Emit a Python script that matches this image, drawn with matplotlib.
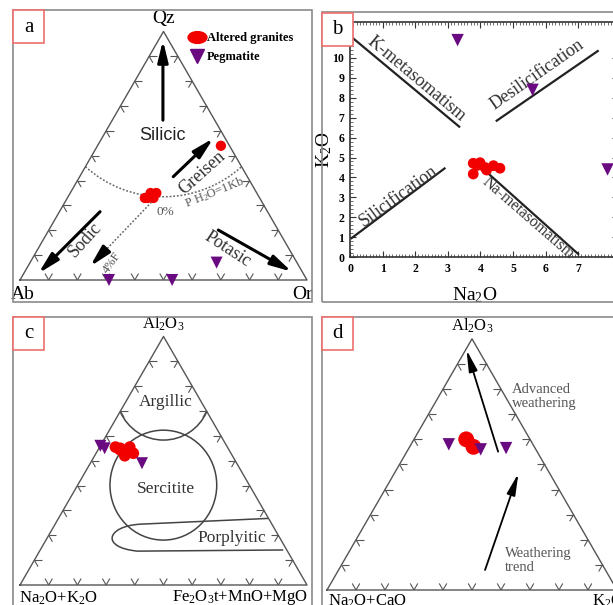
import numpy as np
import matplotlib
matplotlib.use("Agg")
import matplotlib.pyplot as plt
from matplotlib.patches import Rectangle, Ellipse, Arc, PathPatch
from matplotlib.path import Path
from matplotlib.lines import Line2D
from matplotlib.markers import MarkerStyle
from matplotlib.transforms import Affine2D
from matplotlib.collections import LineCollection

plt.rcParams['font.family'] = ['Liberation Serif', 'DejaVu Serif']
plt.rcParams['mathtext.fontset'] = 'custom'
plt.rcParams['mathtext.rm'] = 'Liberation Serif'
plt.rcParams['mathtext.default'] = 'regular'

RED = '#f20000'
PURPLE = '#6a0a80'
GREY = '#555555'

# ---- data ----
# (a) Qz - Ab - Or
a_red_qz = [33, 35, 35, 33, 33, 54]
a_red_ab = [40, 37, 35, 39, 37, 3]
a_red_or = [27, 28, 30, 28, 30, 43]
a_peg_qz = [0, 0, 7]
a_peg_ab = [69, 47, 28]
a_peg_or = [31, 53, 65]

# (b) K2O vs Na2O
b_red_na = [3.78, 3.99, 3.78, 4.19, 4.40, 4.60, 4.14, 3.90]
b_red_k = [4.71, 4.74, 4.17, 4.37, 4.59, 4.46, 4.50, 4.60]
b_peg_na = [3.3, 5.6, 7.9]
b_peg_k = [10.9, 8.4, 4.4]
k_meta_x, k_meta_y = [0.05, 3.35], [11.05, 6.55]
desil_x, desil_y = [4.5, 7.6], [6.85, 10.35]
silic_x, silic_y = [0.05, 2.9], [0.95, 4.45]
na_meta_x, na_meta_y = [4.0, 7.0], [4.55, 0.15]

# (c) Al2O3 - (Na2O+K2O) - (Fe2O3t+MnO+MgO)
c_red_al = [55.5, 55, 54, 53, 52, 55.5, 53.5, 54.5]
c_red_alk = [39, 37.5, 35.5, 34, 37.5, 34, 36, 38]
c_red_fe = [5.5, 7.5, 10.5, 13, 10.5, 10.5, 10.5, 7.5]
c_peg_al = [56, 55, 49]
c_peg_alk = [44, 43, 33]
c_peg_fe = [0, 2, 18]

# (d) Al2O3 - (Na2O+CaO) - K2O
d_red_al = [60, 57]
d_red_naca = [22, 21]
d_red_k = [18, 22]
d_peg_al = [58, 56, 56.5]
d_peg_naca = [29, 19, 10]
d_peg_k = [13, 25, 33.5]

W, H = 613, 605
H3 = np.sqrt(3) / 2


def tri_xy(top, left, right):
    top, left, right = (np.asarray(v, float) for v in (top, left, right))
    s = top + left + right
    return right / s + 0.5 * top / s, top / s * H3


def tri_axes(box, origin, scale):
    x0, y0, x1, y1 = box
    ax = fig.add_axes([x0 / W, 1 - y1 / H, (x1 - x0) / W, (y1 - y0) / H])
    ax.set_xlim((x0 - origin[0]) / scale, (x1 - origin[0]) / scale)
    ax.set_ylim((origin[1] - y1) / scale, (origin[1] - y0) / scale)
    ax.axis('off')
    # outline + chevron ticks
    ax.plot([0, 1, 0.5, 0], [0, 0, H3, 0], color=GREY, lw=1, zorder=2)
    L = 0.026
    segs = []
    for i in range(1, 10):
        f = i / 10
        for p, dirs in [((f, 0), [(0.5, H3), (-0.5, H3)]),
                        ((0.5 * f, H3 * f), [(1, 0), (0.5, -H3)]),
                        ((1 - 0.5 * f, H3 * f), [(-1, 0), (-0.5, -H3)])]:
            for d in dirs:
                segs.append([p, (p[0] + L * d[0], p[1] + L * d[1])])
    ax.add_collection(LineCollection(segs, colors=GREY, linewidths=0.8))
    return ax


fig = plt.figure(figsize=(W / 100, H / 100), dpi=100)

arrow_bold = dict(arrowstyle='-|>,head_length=0.9,head_width=0.22', color='k',
                  lw=2.2, shrinkA=0, shrinkB=0, mutation_scale=14)
arrow_thin = dict(arrowstyle='-|>,head_length=1.0,head_width=0.2', color='k',
                  lw=1.3, shrinkA=0, shrinkB=0, mutation_scale=13)

# ---------------- (a) ----------------
ax = tri_axes((13, 10, 312, 302), (20, 280), 287)
ax.text(0.5, H3 + 0.045, 'Qz', ha='center', va='center', fontsize=14)
ax.text(0.01, -0.05, 'Ab', ha='center', va='center', fontsize=14)
ax.text(0.985, -0.05, 'Or', ha='center', va='center', fontsize=14)

ax.add_patch(Arc((0.5, 0.695), 0.81, 0.81, theta1=227.8, theta2=312.2,
                 color='#666', lw=1.1, ls=(0, (1.2, 1.2))))
ax.plot([0.476, 0.262], [0.290, 0.066], color='#666', lw=1.1, ls=(0, (1.2, 1.2)))
ax.annotate('', xy=(0.244, 0.047), xytext=(0.275, 0.080), arrowprops=arrow_bold)

ax.annotate('', xy=(0.498, 0.835), xytext=(0.498, 0.557), arrowprops=arrow_bold)
ax.annotate('', xy=(0.674, 0.494), xytext=(0.534, 0.360), arrowprops=arrow_bold)
ax.annotate('', xy=(0.064, 0.023), xytext=(0.279, 0.238), arrowprops=arrow_bold)
ax.annotate('', xy=(0.947, 0.029), xytext=(0.691, 0.174), arrowprops=arrow_bold)

ax.text(0.498, 0.505, 'Silicic', family='Liberation Sans', fontsize=13,
        ha='center', va='center', color='#222')
ax.text(0.635, 0.372, 'Greisen', fontsize=13, rotation=42, ha='center',
        va='center', color='#333')
ax.text(0.226, 0.139, 'Sodic', fontsize=13, rotation=48, ha='center',
        va='center', color='#333')
ax.text(0.722, 0.108, 'Potasic', fontsize=13, rotation=-33, ha='center',
        va='center', color='#333')
ax.text(0.676, 0.305, 'P H$_2$O=1Kb', fontsize=9, rotation=22, ha='center',
        va='center', color='#555')
ax.text(0.508, 0.238, '0%', fontsize=9.5, ha='center', va='center', color='#555')
ax.text(0.322, 0.062, '4%F', fontsize=9, rotation=55, ha='center',
        va='center', color='#555')

x, y = tri_xy(a_red_qz, a_red_ab, a_red_or)
ax.scatter(x, y, s=55, color=RED, edgecolors='none', zorder=5)
x, y = tri_xy(a_peg_qz, a_peg_ab, a_peg_or)
ax.scatter(x, y, s=75, marker='v', color=PURPLE, edgecolors='none', zorder=5)

ell = MarkerStyle('o', transform=Affine2D().scale(1.6, 1.0))
handles = [Line2D([], [], ls='', marker=ell, color=RED, ms=8.5),
           Line2D([], [], ls='', marker='v', color=PURPLE, ms=10)]
ax.legend(handles, ['Altered granites', 'Pegmatite'], loc='upper left',
          bbox_to_anchor=(0.585, 0.925), frameon=False, handlelength=1.4,
          handletextpad=0.15, borderpad=0, borderaxespad=0, labelspacing=0.6,
          prop=dict(family='Liberation Serif', weight='bold', size=9))

# ---------------- (b) ----------------
bx = fig.add_axes([350 / W, 1 - 257 / H, (618 - 350) / W, (257 - 22) / H])
bx.set_xlim(0, 268 / 32.6)
bx.set_ylim(0, 235 / 19.9)
bx.set_xticks(range(8))
bx.set_yticks(range(11))
bx.set_xticks(np.arange(0, 8.2, 0.1), minor=True)
bx.set_yticks(np.arange(0, 11.8, 0.2), minor=True)
bx.tick_params(which='both', direction='in', top=True, right=True,
               labelsize=8.5, pad=4, color='#333')
bx.tick_params(which='major', length=4, width=0.8)
bx.tick_params(which='minor', length=2, width=0.5)
for lab in bx.get_xticklabels() + bx.get_yticklabels():
    lab.set_fontweight('bold')
for s in bx.spines.values():
    s.set_linewidth(1.2)
    s.set_color('#333')
bx.set_xlabel('Na$_2$O', fontsize=14)
bx.set_ylabel('K$_2$O', fontsize=14)
bx.xaxis.set_label_coords((475 - 350) / 268, -(285 - 257) / 235)
bx.yaxis.set_label_coords(-(350 - 334) / 268, (257 - 150) / 235)

for lx, ly in [(k_meta_x, k_meta_y), (desil_x, desil_y),
               (silic_x, silic_y), (na_meta_x, na_meta_y)]:
    bx.plot(lx, ly, color='#222', lw=1.6)
bx.text(2.05, 8.95, 'K-metasomatism', fontsize=13, rotation=-40,
        ha='center', va='center', color='#333')
bx.text(5.75, 9.15, 'Desilicification', fontsize=13, rotation=35,
        ha='center', va='center', color='#333')
bx.text(1.48, 3.05, 'Silicification', fontsize=13, rotation=36,
        ha='center', va='center', color='#333')
bx.text(5.45, 1.95, 'Na-metasomatism', fontsize=11.5, rotation=-41,
        ha='center', va='center', color='#333')
bx.scatter(b_red_na, b_red_k, s=60, color=RED, edgecolors='none', zorder=5)
bx.scatter(b_peg_na, b_peg_k, s=80, marker='v', color=PURPLE,
           edgecolors='none', zorder=5, clip_on=False)

# ---------------- (c) ----------------
cx = tri_axes((13, 317, 312, 612), (20, 585), 287)
cx.text(0.5, H3 + 0.045, 'Al$_2$O$_3$', ha='center', va='center', fontsize=12)
cx.text(0.135, -0.045, 'Na$_2$O+K$_2$O', ha='center', va='center', fontsize=12)
cx.text(0.53, -0.045, 'Fe$_2$O$_3$t+MnO+MgO', ha='left', va='center', fontsize=12)

line_kw = dict(color='#444', lw=1.1)
cx.add_patch(Arc((0.5, 0.669), 0.328, 0.328, theta1=203.3, theta2=336.7, **line_kw))
cx.add_patch(Ellipse((0.4995, 0.348), 0.372, 0.383, fill=False, **line_kw))
porph = Path([(0.865, 0.232), (0.42, 0.212), (0.30, 0.205), (0.28, 0.13),
              (0.41, 0.118), (0.917, 0.122)],
             [Path.MOVETO, Path.LINETO, Path.CURVE4, Path.CURVE4,
              Path.CURVE4, Path.LINETO])
cx.add_patch(PathPatch(porph, fill=False, **line_kw))
cx.text(0.508, 0.639, 'Argillic', fontsize=12.5, ha='center', va='center', color='#333')
cx.text(0.508, 0.333, 'Sercitite', fontsize=12.5, ha='center', va='center', color='#333')
cx.text(0.738, 0.163, 'Porplyitic', fontsize=12.5, ha='center', va='center', color='#333')

x, y = tri_xy(c_red_al, c_red_alk, c_red_fe)
cx.scatter(x, y, s=70, color=RED, edgecolors='none', zorder=5)
x, y = tri_xy(c_peg_al, c_peg_alk, c_peg_fe)
cx.scatter(x, y, s=75, marker='v', color=PURPLE, edgecolors='none', zorder=6)

# ---------------- (d) ----------------
dx = tri_axes((322, 317, 618, 612), (327, 590), 290)
dx.text(0.5, H3 + 0.045, 'Al$_2$O$_3$', ha='center', va='center', fontsize=12)
dx.text(0.14, -0.04, 'Na$_2$O+CaO', ha='center', va='center', fontsize=12)
dx.text(0.915, -0.04, 'K$_2$O', ha='left', va='center', fontsize=12)

dx.annotate('', xy=(0.481, 0.828), xytext=(0.590, 0.477), arrowprops=arrow_thin)
dx.annotate('', xy=(0.660, 0.402), xytext=(0.545, 0.069), arrowprops=arrow_thin)
dx.text(0.638, 0.666, 'Advanced\nweathering', fontsize=10.5, ha='left',
        va='center', color='#555', linespacing=1.1)
dx.text(0.614, 0.103, 'Weathering\ntrend', fontsize=10.5, ha='left',
        va='center', color='#555', linespacing=1.1)

x, y = tri_xy(d_red_al, d_red_naca, d_red_k)
dx.scatter(x, y, s=130, color=RED, edgecolors='none', zorder=5)
x, y = tri_xy(d_peg_al, d_peg_naca, d_peg_k)
dx.scatter(x, y, s=80, marker='v', color=PURPLE, edgecolors='none', zorder=6)

# ---------------- frames and panel letters ----------------
for (x0, y0, x1, y1) in [(13, 10, 312, 302), (322, 12, 618, 302),
                         (13, 317, 312, 612), (322, 317, 618, 612)]:
    fig.add_artist(Rectangle((x0 / W, 1 - y1 / H), (x1 - x0) / W, (y1 - y0) / H,
                             transform=fig.transFigure, fill=False,
                             ec='#8a8a8a', lw=1.2, zorder=1))

for letter, (x0, y0) in [('a', (13, 10)), ('b', (322, 13)),
                         ('c', (13, 317)), ('d', (322, 317))]:
    fig.add_artist(Rectangle((x0 / W, 1 - (y0 + 33) / H), 31 / W, 33 / H,
                             transform=fig.transFigure, fc='white',
                             ec='#ee7070', lw=1.2, zorder=20))
    fig.text((x0 + 15.5) / W, 1 - (y0 + 17) / H, letter, fontsize=15,
             ha='center', va='center', zorder=21)

fig.savefig('out.png', dpi=100)
